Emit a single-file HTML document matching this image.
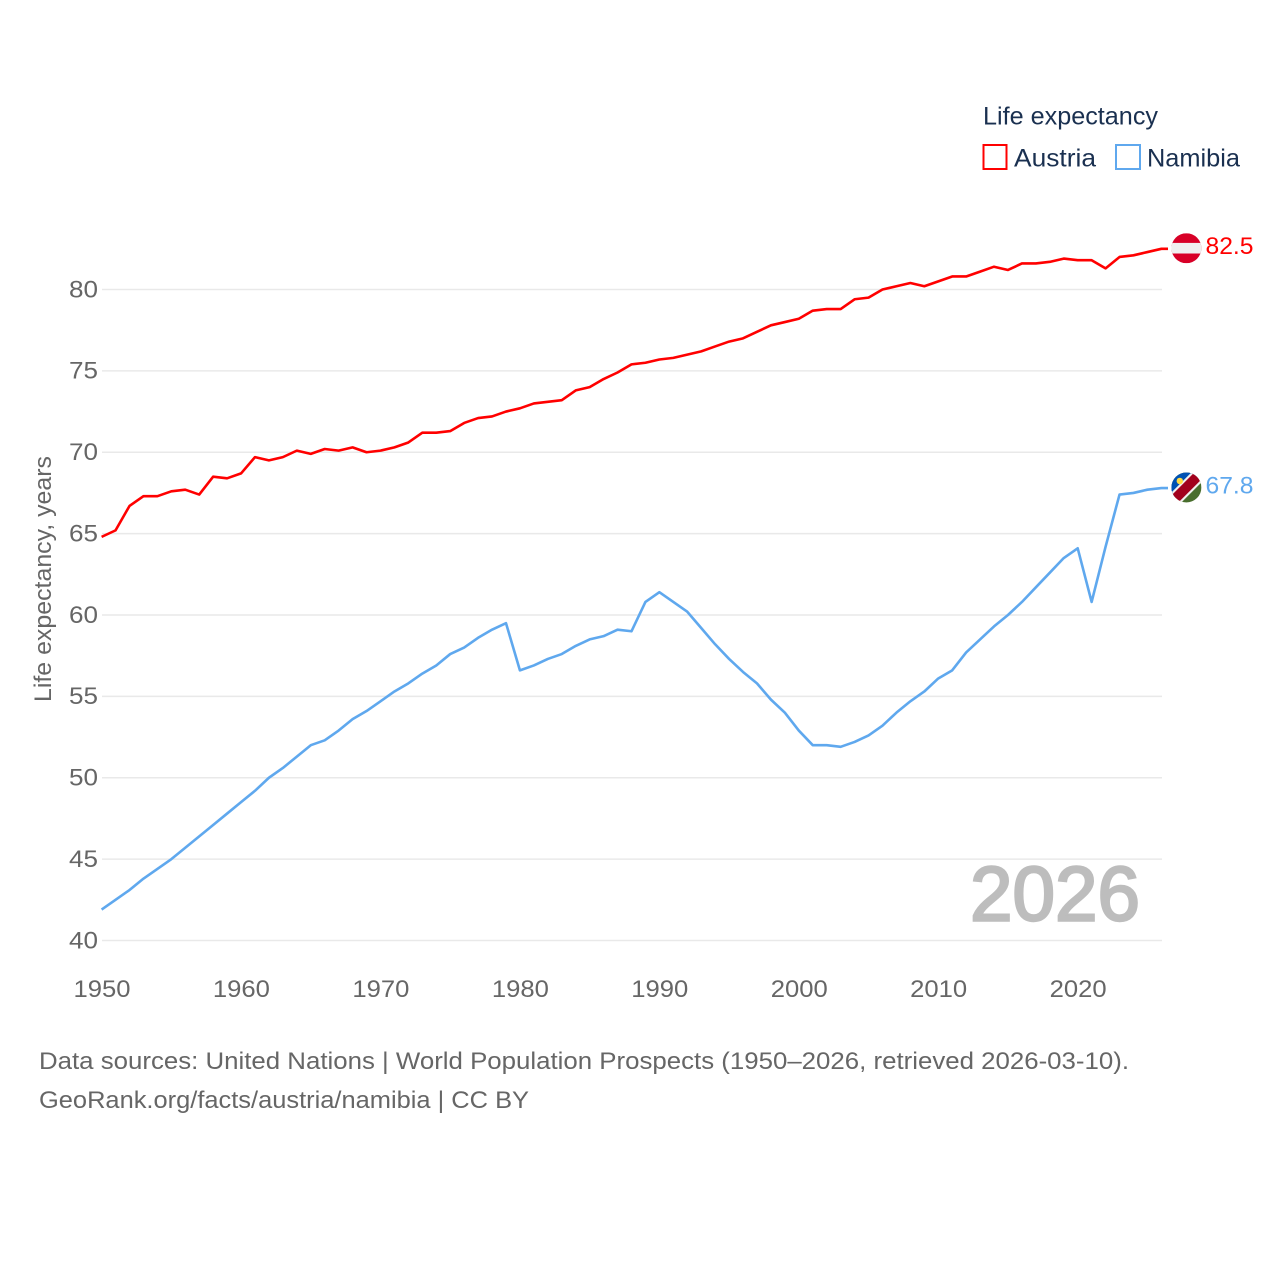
<!DOCTYPE html>
<html lang="en">
<head>
<meta charset="utf-8">
<title>Life expectancy: Austria and Namibia</title>
<style>
html,body{margin:0;padding:0;background:#fff;width:1280px;height:1280px;overflow:hidden}
svg{display:block}
text{font-family:"Liberation Sans",sans-serif}
</style>
</head>
<body>
<svg id="chart" xmlns="http://www.w3.org/2000/svg" width="1280" height="1280" viewBox="0 0 1280 1280">
  <defs>
    <clipPath id="flag-clip"><circle cx="0" cy="0" r="15"/></clipPath>
  </defs>
  <g id="grid"></g>
  <g id="y-ticks"></g>
  <g id="x-ticks"></g>
  <text transform="translate(51,702) rotate(-90)" font-size="24" fill="#666" textLength="246" lengthAdjust="spacingAndGlyphs">Life expectancy, years</text>
  <text x="970" y="920.5" font-size="77" fill="#bdbdbd" stroke="#bdbdbd" stroke-width="2.4" textLength="170" lengthAdjust="spacingAndGlyphs">2026</text>
  <g id="series"></g>
  <g id="flag-austria">
    <g clip-path="url(#flag-clip)">
      <rect x="-15" y="-15" width="30" height="30" fill="#d80027"/>
      <rect x="-15" y="-5.3" width="30" height="10.6" fill="#f0f0f0"/>
    </g>
  </g>
  <g id="flag-namibia">
    <g clip-path="url(#flag-clip)">
      <rect x="-15" y="-15" width="30" height="30" fill="#496e2d"/>
      <polygon points="-15,-15 15,-15 -15,15" fill="#0052b4"/>
      <polygon points="-30,20 -20,30 30,-20 20,-30" fill="#f0f0f0"/>
      <polygon points="-28.5,21.5 -21.5,28.5 28.5,-21.5 21.5,-28.5" fill="#a2001d"/>
      <circle cx="-6.6" cy="-6.5" r="3.2" fill="#ffda44"/>
    </g>
  </g>
  <g id="end-labels"></g>
  <g>
    <text x="983" y="124.5" font-size="25" fill="#1a3050" textLength="175" lengthAdjust="spacingAndGlyphs">Life expectancy</text>
    <rect x="983.5" y="145" width="23" height="24" fill="#fff" stroke="#ff0000" stroke-width="2"/>
    <text x="1014" y="166.5" font-size="25" fill="#1a3050" textLength="82" lengthAdjust="spacingAndGlyphs">Austria</text>
    <rect x="1116" y="145" width="24" height="24" fill="#fff" stroke="#5fa8ee" stroke-width="2"/>
    <text x="1147" y="166.5" font-size="25" fill="#1a3050" textLength="93" lengthAdjust="spacingAndGlyphs">Namibia</text>
  </g>
  <g>
    <text x="39" y="1069" font-size="24.5" fill="#666" textLength="1090" lengthAdjust="spacingAndGlyphs">Data sources: United Nations | World Population Prospects (1950–2026, retrieved 2026-03-10).</text>
    <text x="39" y="1108" font-size="24.5" fill="#666" textLength="490" lengthAdjust="spacingAndGlyphs">GeoRank.org/facts/austria/namibia | CC BY</text>
  </g>
</svg>
<script>
const years = [1950,1951,1952,1953,1954,1955,1956,1957,1958,1959,1960,1961,1962,1963,1964,1965,1966,1967,1968,1969,1970,1971,1972,1973,1974,1975,1976,1977,1978,1979,1980,1981,1982,1983,1984,1985,1986,1987,1988,1989,1990,1991,1992,1993,1994,1995,1996,1997,1998,1999,2000,2001,2002,2003,2004,2005,2006,2007,2008,2009,2010,2011,2012,2013,2014,2015,2016,2017,2018,2019,2020,2021,2022,2023,2024,2025,2026];
const austriaValues = [64.8,65.2,66.7,67.3,67.3,67.6,67.7,67.4,68.5,68.4,68.7,69.7,69.5,69.7,70.1,69.9,70.2,70.1,70.3,70.0,70.1,70.3,70.6,71.2,71.2,71.3,71.8,72.1,72.2,72.5,72.7,73.0,73.1,73.2,73.8,74.0,74.5,74.9,75.4,75.5,75.7,75.8,76.0,76.2,76.5,76.8,77.0,77.4,77.8,78.0,78.2,78.7,78.8,78.8,79.4,79.5,80.0,80.2,80.4,80.2,80.5,80.8,80.8,81.1,81.4,81.2,81.6,81.6,81.7,81.9,81.8,81.8,81.3,82.0,82.1,82.3,82.5];
const namibiaValues = [41.9,42.5,43.1,43.8,44.4,45.0,45.7,46.4,47.1,47.8,48.5,49.2,50.0,50.6,51.3,52.0,52.3,52.9,53.6,54.1,54.7,55.3,55.8,56.4,56.9,57.6,58.0,58.6,59.1,59.5,56.6,56.9,57.3,57.6,58.1,58.5,58.7,59.1,59.0,60.8,61.4,60.8,60.2,59.2,58.2,57.3,56.5,55.8,54.8,54.0,52.9,52.0,52.0,51.9,52.2,52.6,53.2,54.0,54.7,55.3,56.1,56.6,57.7,58.5,59.3,60.0,60.8,61.7,62.6,63.5,64.1,60.8,64.2,67.4,67.5,67.7,67.8];
const yTickValues = [40,45,50,55,60,65,70,75,80];
const xTickValues = [1950,1960,1970,1980,1990,2000,2010,2020];

const SVG_NS = 'http://www.w3.org/2000/svg';
const xScale = function (year) { return 101.6 + (year - 1950) * (1077.7 - 101.6) / 70; };
const yScale = function (v) { return 940.5 - (v - 40) * (940.5 - 289.5) / 40; };
const X_END = 1168;

function make(tag, attrs, parent) {
  const el = document.createElementNS(SVG_NS, tag);
  Object.keys(attrs).forEach(function (k) { el.setAttribute(k, attrs[k]); });
  parent.appendChild(el);
  return el;
}

const gridGroup = document.getElementById('grid');
const yTickGroup = document.getElementById('y-ticks');
const xTickGroup = document.getElementById('x-ticks');
const seriesGroup = document.getElementById('series');
const labelGroup = document.getElementById('end-labels');

yTickValues.forEach(function (v) {
  const line = make('line', {x1: 102, x2: 1162, y1: yScale(v), y2: yScale(v), stroke: '#e9e9e9', 'stroke-width': 1.6}, gridGroup);
  
  
  const label = make('text', {x: 98, y: yScale(v) + 7.8, 'text-anchor': 'end', 'font-size': 24, fill: '#666', textLength: 29, lengthAdjust: 'spacingAndGlyphs'}, yTickGroup);
  label.textContent = String(v);
  
  
});

xTickValues.forEach(function (year) {
  const label = make('text', {x: xScale(year) + 0.4, y: 997, 'text-anchor': 'middle', 'font-size': 24, fill: '#666', textLength: 57, lengthAdjust: 'spacingAndGlyphs'}, xTickGroup);
  label.textContent = String(year);
  
  
});

function drawSeries(values, color, key, flagId) {
  const pts = values.map(function (v, i) { return xScale(years[i]).toFixed(2) + ',' + yScale(v).toFixed(2); });
  const lastY = yScale(values[values.length - 1]);
  pts.push(X_END + ',' + lastY.toFixed(2));
  const line = make('polyline', {points: pts.join(' '), fill: 'none', stroke: color, 'stroke-width': 2.6, 'stroke-linejoin': 'round'}, seriesGroup);
  
  
  document.getElementById(flagId).setAttribute('transform', 'translate(1186.4,' + (lastY - 0.6).toFixed(2) + ')');
  const label = make('text', {x: 1205.5, y: lastY + 5.2, 'font-size': 24, fill: color, textLength: 48, lengthAdjust: 'spacingAndGlyphs'}, labelGroup);
  label.textContent = values[values.length - 1].toFixed(1);
  
  
}

drawSeries(austriaValues, '#ff0000', 'austria', 'flag-austria');
drawSeries(namibiaValues, '#5fa8ee', 'namibia', 'flag-namibia');
</script>
</body>
</html>
